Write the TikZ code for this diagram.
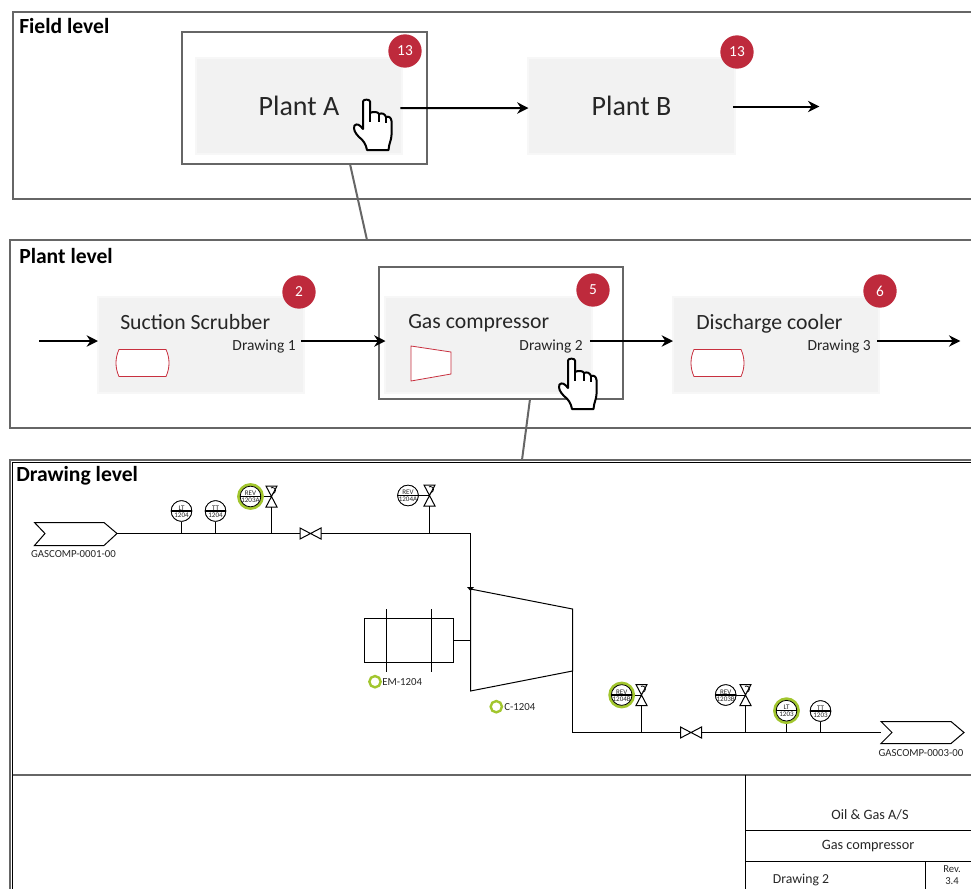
\documentclass[tikz,border=0pt]{standalone}
\usepackage{fontspec}
\setmainfont{Carlito}
\usetikzlibrary{arrows.meta, positioning, calc}
\definecolor{panelGray}{HTML}{666666}
\definecolor{blockGray}{HTML}{F2F2F2}
\definecolor{blockEdge}{HTML}{F7F7F7}
\definecolor{badgeRed}{HTML}{BE2A3C}
\definecolor{symbolRed}{HTML}{C8303F}
\definecolor{ringGreen}{HTML}{A2C62E}
\definecolor{textGray}{HTML}{262626}

\tikzset{
    panel/.style={draw=panelGray, line width=1.5pt},
    focus/.style={draw=panelGray, line width=1.5pt},
    block/.style={fill=blockGray, draw=blockEdge, line width=1.5pt, minimum width=155pt, minimum height=72pt, inner sep=0pt},
    badge/.style={circle, fill=badgeRed, text=white, minimum size=25pt, inner sep=0pt, font=\fontsize{11.5}{13}\selectfont},
    heading/.style={font=\fontsize{16.2}{18}\selectfont\bfseries, inner sep=0pt, anchor=west},
    bigname/.style={font=\fontsize{21}{24}\selectfont, inner sep=0pt, text=textGray},
    stepname/.style={font=\fontsize{16.3}{19}\selectfont, inner sep=0pt, anchor=west, text=textGray},
    drawingname/.style={font=\fontsize{11.6}{13}\selectfont, inner sep=0pt, anchor=east, text=textGray},
    flow/.style={-{Stealth[length=8.5pt, width=8.5pt]}, line width=1.5pt, shorten >=-1pt},
    link/.style={draw=panelGray, line width=1.5pt},
    pipe/.style={line width=0.75pt},
    vessel/.style={draw=symbolRed, line width=0.6pt},
    instr/.style={circle, draw, fill=white, line width=0.6pt, minimum size=15.5pt, inner sep=0pt},
    ring/.style={circle, draw=ringGreen, line width=2.6pt, fill=white, minimum size=17.5pt, inner sep=0pt},
    tagring/.style={circle, draw=ringGreen, line width=1.8pt, minimum size=8.5pt, inner sep=0pt},
    instrtext/.style={font=\fontsize{5.3}{6}\selectfont, inner sep=0pt, text=textGray},
    tag/.style={font=\fontsize{8.1}{10}\selectfont, inner sep=0pt, text=textGray},
    titletext/.style={font=\fontsize{10.7}{13}\selectfont, inner sep=0pt, text=textGray},
    pics/hand/.style={code={
        \draw[fill=white, line width=1.5pt, line join=round]
            (-1,-0.5) .. controls (-1,-3) and (6,-3) .. (6,-0.5) -- (6,11)
            .. controls (9,9.5) and (14,9.5) .. (15,12) .. controls (18,10.5) and (21,12) .. (22,15)
            .. controls (25,14) and (27,15.5) .. (27.5,19) -- (27.5,33)
            .. controls (27.5,38) and (25,41) .. (24.5,48) -- (3,48)
            .. controls (2,42) and (-1,38) .. (-5,35) .. controls (-9,31) and (-11,27) .. (-9.5,23.5)
            .. controls (-7,21) and (-4,23) .. (-1,27) -- cycle;
        \draw[line width=1pt] (6,11) -- (6,20) (15,12) -- (15,20) (22,15) -- (22,21);
    }},
}

% valve drawn upright with its hand wheel, and valve drawn lying in a pipe
\newcommand{\uprightvalve}[3]{%
    \coordinate (#1) at (#2,#3);
    \draw[pipe, fill=white] (#2-5.5,#3-10.5) -- (#2+5.5,#3-10.5) -- (#2-5.5,#3+10.5) -- (#2+5.5,#3+10.5) -- cycle;
    \draw[line width=0.6pt] (#2+1,#3-3) arc (90:-120:3);
}
\newcommand{\pipevalve}[3]{%
    \coordinate (#1) at (#2,#3);
    \draw[pipe, fill=white] (#2-10.5,#3-5.5) -- (#2-10.5,#3+5.5) -- (#2+10.5,#3-5.5) -- (#2+10.5,#3+5.5) -- cycle;
}
\newcommand{\instrument}[6]{%
    \node[#6] (#1) at (#2,#3) {};
    \node[instr] (#1in) at (#2,#3) {};
    \draw[line width=1pt] (#1in.west) -- (#1in.east);
    \node[instrtext, above=0.5pt of #1in.center] (#1top) {#4};
    \node[instrtext, below=0.9pt of #1in.center] (#1low) {#5};
}

\begin{document}
\begin{tikzpicture}[x=0.75pt, y=-0.75pt]
    \useasboundingbox (0,0) rectangle (971,889);

    % field level
    \draw[panel] (971,12) -- (13,12) -- (13,199) -- (971,199);
    \node[heading] (fieldtitle) at (19,26) {Field level};
    \node[block] (plantA) at (299,105.5) {};
    \node[block] (plantB) at (631.5,105.5) {};
    \node[bigname] (plantAname) at (299,105.5) {Plant A};
    \node[bigname] (plantBname) at (631.5,105.5) {Plant B};
    \draw[focus] (182,32) rectangle (427,164);
    \coordinate (fieldend) at (818,106.5);
    \coordinate (focusA) at (350,164);
    \draw[flow] ([shift={(-3,2.5)}]plantA.east) -- ([yshift=-1.9pt]plantB.west);
    \draw[flow] ([xshift=-2.25pt]plantB.east |- fieldend) -- (fieldend);
    \node[badge] (badgeA) at (405,51) {13};
    \node[badge] (badgeB) at (737,52) {13};
    \pic at (364,102) {hand};

    % plant level
    \draw[panel] (971,240) -- (10,240) -- (10,428) -- (971,428);
    \coordinate (plantlink) at (367,240);
    \draw[link] (focusA) -- (plantlink);
    \node[heading] (planttitle) at (19,255.5) {Plant level};
    \node[block] (scrubber) at (201,344.5) {};
    \node[block] (compressor) at (488.5,344.5) {};
    \node[block] (cooler) at (776,344.5) {};
    \node[stepname] (scrubbername) at (120,322.5) {Suction Scrubber};
    \node[stepname] (compressorname) at (408,323.5) {Gas compressor};
    \node[stepname] (coolername) at (696,323.5) {Discharge cooler};
    \node[drawingname] (scrubberdwg) at (296,346.5) {Drawing 1};
    \node[drawingname] (compressordwg) at (583,346.5) {Drawing 2};
    \node[drawingname] (coolerdwg) at (871,346.5) {Drawing 3};
    \draw[vessel, fill=white] (119,349.5) -- (166,349.5) .. controls (170,358) and (170,368) .. (166,376.5) -- (119,376.5) .. controls (115,368) and (115,358) .. (119,349.5) -- cycle;
    \draw[vessel, fill=white] (411,346) -- (451,352) -- (451,374) -- (411,381) -- cycle;
    \draw[vessel, fill=white] (694,349.5) -- (741,349.5) .. controls (745,358) and (745,368) .. (741,376.5) -- (694,376.5) .. controls (690,368) and (690,358) .. (694,349.5) -- cycle;
    \draw[focus] (379,267) rectangle (623,399);
    \coordinate (plantin) at (39,341);
    \coordinate (plantout) at (959,341);
    \draw[flow] (plantin) -- (plantin -| scrubber.west);
    \draw[flow] ([xshift=-3pt]scrubber.east |- plantin) -- (plantin -| compressor.west);
    \draw[flow] ([xshift=-2.25pt]compressor.east |- plantin) -- (plantin -| cooler.west);
    \draw[flow] ([xshift=-2.25pt]cooler.east |- plantin) -- (plantout);
    \node[badge] (badgeS) at (299,292) {2};
    \node[badge] (badgeG) at (593,290) {5};
    \node[badge] (badgeD) at (880,291) {6};
    \pic at (569,361) {hand};

    % drawing level
    \draw[panel] (971,460) -- (10,460) -- (10,889);
    \draw[line width=0.75pt] (971,462.5) -- (12.5,462.5) -- (12.5,889);
    \coordinate (focusG) at (530,399);
    \coordinate (drawinglink) at (522,460);
    \draw[link] (focusG) -- (drawinglink);
    \node[heading] (drawingtitle) at (16,475.5) {Drawing level};

    % pipe in
    \coordinate (inlet) at (117,533.5);
    \coordinate (corner) at (470.5,533.5);
    \coordinate (suction) at (470.5,589);
    \draw[pipe] (34.5,522.5) -- (104,522.5) -- (inlet) -- (104,545.5) -- (34.5,545.5) -- (45,533.5) -- cycle;
    \node[tag] (inlettag) at (73.5,554) {GASCOMP-0001-00};
    \draw[pipe] (inlet) -- (corner) -- (suction);
    \fill (467,587) -- (474,587) -- (470.5,591) -- cycle;
    \pipevalve{valveA}{310.5}{533.5}
    \instrument{ltA}{181.5}{511}{LT}{1204}{instr}
    \instrument{ttA}{215.5}{511}{TT}{1204}{instr}
    \draw[pipe] (ltA.south) -- (ltA.south |- inlet);
    \draw[pipe] (ttA.south) -- (ttA.south |- inlet);
    \instrument{revA}{250.5}{496.5}{REV}{1203A}{ring}
    \uprightvalve{valveB}{271.5}{496.5}
    \draw[pipe] (revA.east) -- (valveB);
    \draw[pipe] (271.5,507) -- (valveB |- inlet);
    \instrument{revB}{408}{495.5}{REV}{1204A}{instr}
    \uprightvalve{valveC}{429.5}{495.5}
    \draw[pipe] (revB.east) -- (valveC);
    \draw[pipe] (429.5,506) -- (valveC |- inlet);

    % compressor and motor
    \draw[pipe] (470.5,589) -- (572.5,609) -- (572.5,671) -- (470.5,691) -- cycle;
    \node[draw, line width=0.75pt, minimum width=66.5pt, minimum height=33pt, inner sep=0pt] (motor) at (409,640.5) {};
    \draw[pipe] (386.5,609) -- (386.5,671.7) (431.5,609) -- (431.5,671.7);
    \draw[pipe] (motor.east) -- (motor.east -| suction);
    \node[tagring] (motorring) at (375,681.7) {};
    \node[tag, anchor=west] (motortag) at (382,681.7) {EM-1204};
    \node[tagring] (compring) at (496.3,706.7) {};
    \node[tag, anchor=west] (comptag) at (504,706.7) {C-1204};

    % pipe out
    \coordinate (discharge) at (572.5,671);
    \coordinate (bend) at (572.5,732.5);
    \coordinate (outlet) at (881,732.5);
    \draw[pipe] (discharge) -- (bend) -- (outlet);
    \draw[pipe, fill=white] (881,721.5) -- (951,721.5) -- (964,732.5) -- (951,743.5) -- (881,743.5) -- (892,732.5) -- cycle;
    \node[tag] (outlettag) at (921,753) {GASCOMP-0003-00};
    \pipevalve{valveD}{691}{732.5}
    \instrument{revC}{621.7}{695}{REV}{1204B}{ring}
    \uprightvalve{valveE}{641.5}{695}
    \draw[pipe] (revC.east) -- (valveE);
    \draw[pipe] (641.5,705.5) -- (valveE |- bend);
    \draw[line width=1.2pt] (621,732.5) -- (641.5,732.5);
    \instrument{revD}{725.7}{695}{REV}{1203B}{instr}
    \uprightvalve{valveF}{745.5}{695}
    \draw[pipe] (revD.east) -- (valveF);
    \draw[pipe] (745.5,705.5) -- (valveF |- bend);
    \draw[line width=1.2pt] (725,732.5) -- (745.5,732.5);
    \instrument{ltB}{786.5}{710.7}{LT}{1203}{ring}
    \instrument{ttB}{820.5}{711}{TT}{1203}{instr}
    \draw[pipe] (ltB.south) -- (ltB.south |- bend);
    \draw[pipe] (ttB.south) -- (ttB.south |- bend);

    % title block
    \draw[line width=1pt, draw=panelGray] (12.5,775) -- (971,775);
    \draw[pipe] (745.5,775) -- (745.5,889);
    \draw[pipe] (745.5,830.5) -- (971,830.5);
    \draw[pipe] (745.5,861.5) -- (971,861.5);
    \draw[pipe] (925.5,861.5) -- (925.5,889);
    \node[titletext] (company) at (870,815) {Oil \& Gas A/S};
    \node[titletext] (unitname) at (868,846.5) {Gas compressor};
    \node[titletext, font=\fontsize{10.3}{13}\selectfont] (sheet) at (801,880) {Drawing 2};
    \node[titletext, font=\fontsize{8}{9.5}\selectfont, align=center] (revision) at (952,875) {Rev.\\3.4};
\end{tikzpicture}
\end{document}
